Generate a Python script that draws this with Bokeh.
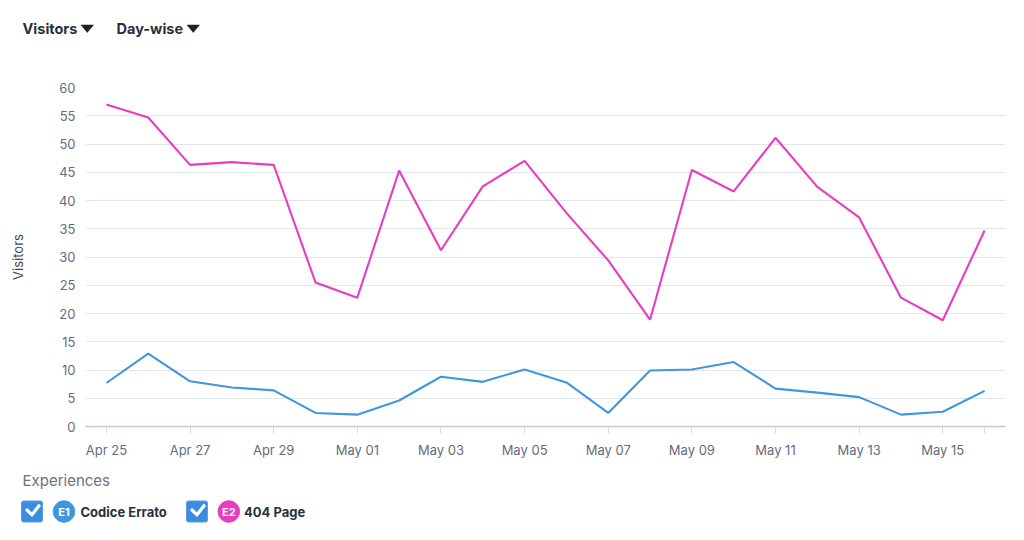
from bokeh.plotting import figure
from bokeh.models import Range1d, FixedTicker
from bokeh.layouts import column, row
from bokeh.core.properties import value
from bokeh.embed import file_html
from bokeh.resources import INLINE

# ---- data ----
dates = ["Apr 25", "Apr 26", "Apr 27", "Apr 28", "Apr 29", "Apr 30", "May 01",
         "May 02", "May 03", "May 04", "May 05", "May 06", "May 07", "May 08",
         "May 09", "May 10", "May 11", "May 12", "May 13", "May 14", "May 15", "May 16"]
codice_errato = [7.7, 12.9, 8.0, 6.9, 6.4, 2.4, 2.1, 4.6, 8.8, 7.9, 10.1, 7.8,
                 2.4, 9.9, 10.1, 11.4, 6.7, 6.0, 5.2, 2.1, 2.6, 6.3]
page_404 = [57.0, 54.7, 46.3, 46.8, 46.3, 25.5, 22.8, 45.3, 31.2, 42.5, 47.0, 37.8,
            29.4, 18.9, 45.4, 41.6, 51.1, 42.4, 37.0, 22.8, 18.8, 34.7]
y_ticks = list(range(0, 61, 5))
series_names = ["Codice Errato", "404 Page"]
series_tags = ["E1", "E2"]
menu_labels = ["Visitors", "Day-wise"]
legend_title = "Experiences"

BLUE = "#4196E0"
PINK = "#E83DBD"
CHECK = "#3A8DDE"
DARK = "#2A303B"
TICK = "#636D7D"
FONT = "Inter"
W = 1008


def blank_fig(h):
    f = figure(width=W, height=h, output_backend="svg", toolbar_location=None,
               x_range=Range1d(0, W), y_range=Range1d(h, 0), min_border=0)
    f.axis.visible = False
    f.grid.grid_line_color = None
    f.outline_line_color = None
    return f


# ---- header ----
HH = 50
hdr = blank_fig(HH)
hdr.text(x=[22, 116], y=[28, 28], text=menu_labels, text_font=value(FONT),
         text_font_size="14.5px", text_font_style="bold", text_color=DARK,
         text_baseline="middle", text_align="left")
tri_left = [80.5, 186.5]
hdr.patches(xs=[[t, t + 12.5, t + 6.25] for t in tri_left],
            ys=[[24.5, 24.5, 32] for _ in tri_left],
            fill_color="#1E232B", line_color="#1E232B", line_width=0.5)

# ---- main chart ----
MH = 410
p = figure(width=W, height=MH, output_backend="svg", toolbar_location=None,
           x_range=Range1d(-0.5, len(dates) - 0.5), y_range=Range1d(0, 60),
           min_border_left=85, min_border_right=3, min_border_top=37,
           min_border_bottom=34)
p.outline_line_color = None

xs = list(range(len(dates)))
p.line(xs, codice_errato, line_color=BLUE, line_width=2.1)
p.line(xs, page_404, line_color=PINK, line_width=2.1)

tick_idx = list(range(0, len(dates), 2)) + [len(dates) - 1]
p.xaxis.ticker = FixedTicker(ticks=tick_idx)
p.xaxis.major_label_overrides = {i: (dates[i] if i % 2 == 0 else "") for i in tick_idx}
p.xaxis.minor_tick_line_color = None
p.xaxis.axis_line_color = "#C0CAD8"
p.xaxis.axis_line_width = 1.5
p.xaxis.major_tick_line_color = "#D3DAE4"
p.xaxis.major_tick_in = 0
p.xaxis.major_tick_out = 7
p.xaxis.major_label_standoff = 8
p.xaxis.major_label_text_font = FONT
p.xaxis.major_label_text_font_size = "13px"
p.xaxis.major_label_text_color = TICK

p.yaxis.ticker = FixedTicker(ticks=y_ticks)
p.yaxis.axis_line_color = None
p.yaxis.major_tick_line_color = None
p.yaxis.minor_tick_line_color = None
p.yaxis.major_tick_in = 0
p.yaxis.major_tick_out = 0
p.yaxis.major_label_standoff = 10
p.yaxis.major_label_text_font = FONT
p.yaxis.major_label_text_font_size = "13px"
p.yaxis.major_label_text_color = TICK
p.yaxis.axis_label = "Visitors"
p.yaxis.axis_label_text_font = FONT
p.yaxis.axis_label_text_font_size = "13px"
p.yaxis.axis_label_text_font_style = "normal"
p.yaxis.axis_label_text_color = "#3F4654"
p.yaxis.axis_label_standoff = 30

p.xgrid.grid_line_color = None
p.ygrid.grid_line_color = "#E1E5EC"
p.ygrid.grid_line_width = 1

# ---- legend ----
LH = 524 - HH - MH
leg = blank_fig(LH)
leg.text(x=[22], y=[20], text=[legend_title], text_font=value(FONT),
         text_font_size="15px", text_color="#6B7280",
         text_baseline="middle", text_align="left")
cb_left = [21, 186]
circ_cx = [63.5, 228.3]
txt_left = [80, 243.5]
cy = 51
leg.quad(left=cb_left, right=[c + 21 for c in cb_left], top=[cy - 10.5] * 2,
         bottom=[cy + 10.5] * 2, fill_color=CHECK, line_color="#5A9FE2", border_radius=2)
leg.multi_line(xs=[[c + 5.5, c + 10.5, c + 17.5] for c in cb_left],
               ys=[[cy - 1.5, cy + 3.3, cy - 5.8] for _ in cb_left],
               line_color="white", line_width=3.2, line_join="round", line_cap="round")
leg.scatter(x=circ_cx, y=[cy, cy], size=21.5, marker="circle",
            fill_color=[BLUE, PINK], line_color=[BLUE, PINK])
leg.text(x=circ_cx, y=[cy + 0.5] * 2, text=series_tags, text_font=value(FONT),
         text_font_size="11px", text_font_style="bold", text_color="white",
         text_baseline="middle", text_align="center")
leg.text(x=txt_left, y=[cy] * 2, text=series_names, text_font=value(FONT),
         text_font_size="13px", text_font_style="bold", text_color=DARK,
         text_baseline="middle", text_align="left")

layout = column(row(hdr), p, row(leg), spacing=0)
open("out.html", "w").write(file_html(layout, INLINE))
